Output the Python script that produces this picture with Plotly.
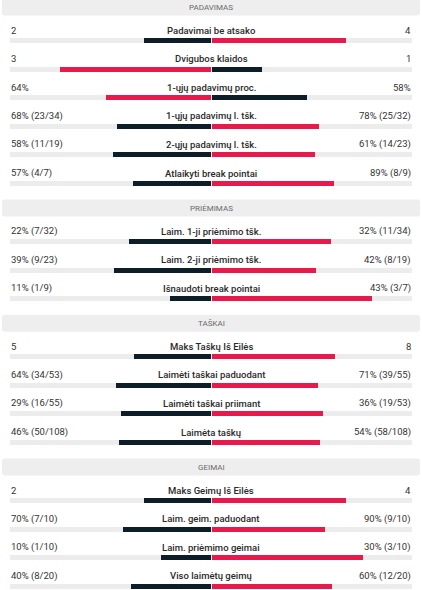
import plotly.graph_objects as go

# ---------------- data ----------------
sections = ["PADAVIMAS", "PRIĖMIMAS", "TAŠKAI", "GEIMAI"]
section_sizes = [6, 3, 4, 4]

labels = [
    "Padavimai be atsako", "Dvigubos klaidos", "1-ųjų padavimų proc.",
    "1-ųjų padavimų l. tšk.", "2-ųjų padavimų l. tšk.", "Atlaikyti break pointai",
    "Laim. 1-ji priėmimo tšk.", "Laim. 2-ji priėmimo tšk.", "Išnaudoti break pointai",
    "Maks Taškų Iš Eilės", "Laimėti taškai paduodant", "Laimėti taškai priimant", "Laimėta taškų",
    "Maks Geimų Iš Eilės", "Laim. geim. paduodant", "Laim. priėmimo geimai", "Viso laimėtų geimų",
]
left_text = [
    "2", "3", "64%", "68% (23/34)", "58% (11/19)", "57% (4/7)",
    "22% (7/32)", "39% (9/23)", "11% (1/9)",
    "5", "64% (34/53)", "29% (16/55)", "46% (50/108)",
    "2", "70% (7/10)", "10% (1/10)", "40% (8/20)",
]
right_text = [
    "4", "1", "58%", "78% (25/32)", "61% (14/23)", "89% (8/9)",
    "32% (11/34)", "42% (8/19)", "43% (3/7)",
    "8", "71% (39/55)", "36% (19/53)", "54% (58/108)",
    "4", "90% (9/10)", "30% (3/10)", "60% (12/20)",
]
left_vals = [2, 3, 64, 68, 58, 57, 22, 39, 11, 5, 64, 29, 46, 2, 70, 10, 40]
right_vals = [4, 1, 58, 78, 61, 89, 32, 42, 43, 8, 71, 36, 54, 4, 90, 30, 60]

# ---------------- layout constants ----------------
W, H = 422, 590
CENTER = 211
HALF = 201
RED = "#e8194b"
DARK = "#0e1e29"
TRACK = "#ececec"
HEADER_BG = "#eeeeee"
FONT = "Roboto"

header_y = []
row_text_y = []
row_bar_y = []
y = 7.0
for s, n in zip(sections, section_sizes):
    header_y.append(y)
    last_bar = y
    for i in range(n):
        ty = y + 23 + i * 28.6
        row_text_y.append(ty)
        last_bar = ty + 10.5
        row_bar_y.append(last_bar)
    y = last_bar + 24.5

fig = go.Figure()

# track
fig.add_trace(go.Bar(
    orientation="h", y=row_bar_y, x=[2 * HALF] * len(row_bar_y),
    base=[CENTER - HALF] * len(row_bar_y), width=5,
    marker=dict(color=TRACK, line=dict(width=0)), hoverinfo="skip", showlegend=False,
))

left_len, right_len, left_col, right_col = [], [], [], []
for a, b in zip(left_vals, right_vals):
    tot = a + b
    left_len.append(-a / tot * HALF)
    right_len.append(b / tot * HALF)
    left_col.append(RED if a > b else DARK)
    right_col.append(RED if b > a else DARK)

fig.add_trace(go.Bar(
    orientation="h", y=row_bar_y, x=left_len, base=[CENTER] * len(row_bar_y), width=5,
    marker=dict(color=left_col, line=dict(width=0)), showlegend=False,
))
fig.add_trace(go.Bar(
    orientation="h", y=row_bar_y, x=right_len, base=[CENTER + 0.8] * len(row_bar_y), width=5,
    marker=dict(color=right_col, line=dict(width=0)), showlegend=False,
))

shapes = []
annotations = []
r = 3
for s, hy in zip(sections, header_y):
    x0, x1, y0, y1 = 2, 420, hy - 8.5, hy + 8.5
    path = (f"M {x0+r},{y0} L {x1-r},{y0} Q {x1},{y0} {x1},{y0+r} L {x1},{y1-r} "
            f"Q {x1},{y1} {x1-r},{y1} L {x0+r},{y1} Q {x0},{y1} {x0},{y1-r} "
            f"L {x0},{y0+r} Q {x0},{y0} {x0+r},{y0} Z")
    shapes.append(dict(type="path", path=path, xref="x", yref="y",
                       fillcolor=HEADER_BG, line=dict(width=0), layer="below"))
    annotations.append(dict(x=CENTER, y=hy, text=s, showarrow=False, xref="x", yref="y",
                            font=dict(family=FONT, size=8, color="#6b6b6b"),
                            xanchor="center", yanchor="middle"))

for lab, lt, rt, ty in zip(labels, left_text, right_text, row_text_y):
    annotations.append(dict(x=CENTER, y=ty, text=lab, showarrow=False, xref="x", yref="y",
                            font=dict(family=FONT, size=9.5, color="#2a2a2a", weight=500),
                            xanchor="center", yanchor="middle"))
    annotations.append(dict(x=CENTER - HALF - 1, y=ty, text=lt, showarrow=False, xref="x", yref="y",
                            font=dict(family=FONT, size=9.5, color="#333333"),
                            xanchor="left", yanchor="middle"))
    annotations.append(dict(x=CENTER + HALF + 1, y=ty, text=rt, showarrow=False, xref="x", yref="y",
                            font=dict(family=FONT, size=9.5, color="#333333"),
                            xanchor="right", yanchor="middle"))

fig.update_layout(
    width=W, height=H,
    margin=dict(l=0, r=0, t=0, b=0),
    paper_bgcolor="white", plot_bgcolor="white",
    barmode="overlay",
    xaxis=dict(range=[0, W], visible=False, fixedrange=True),
    yaxis=dict(range=[H, 0], visible=False, fixedrange=True),
    shapes=shapes, annotations=annotations,
    bargap=0,
)

fig.write_html(
    "out.html",
    config={"displayModeBar": False},
    post_script="document.body.style.margin='0';document.body.style.overflow='hidden';",
)
